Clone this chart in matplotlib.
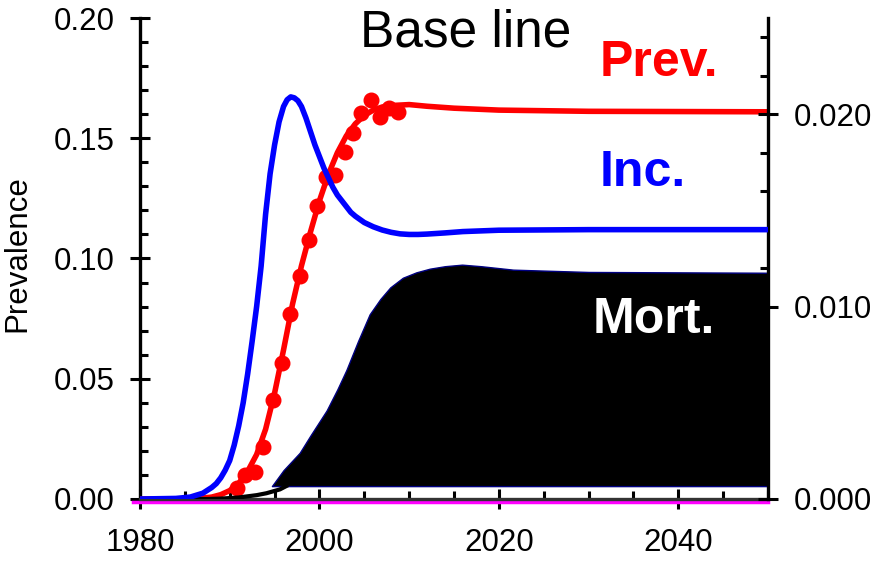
import matplotlib
matplotlib.use("Agg")
import matplotlib.pyplot as plt
import matplotlib.transforms as mtransforms
from matplotlib.ticker import MultipleLocator, FormatStrFormatter

plt.rcParams['font.family'] = ['Liberation Sans', 'DejaVu Sans']

# prevalence model curve (left axis)
prev_years = [1980, 1986, 1988, 1989, 1990, 1991, 1992, 1993, 1994, 1995, 1996,
              1997, 1998, 1999, 2000, 2001, 2002, 2003, 2004, 2005, 2006, 2007,
              2008, 2010, 2012, 2015, 2020, 2030, 2050]
prev_vals = [0, 0, 0.0008, 0.0018, 0.0035, 0.0065, 0.0115, 0.0185, 0.029, 0.044, 0.062,
             0.081, 0.097, 0.111, 0.124, 0.135, 0.144, 0.151, 0.156, 0.1595, 0.1617, 0.163,
             0.1636, 0.1640, 0.1633, 0.1625, 0.1617, 0.1612, 0.1610]

# prevalence observations (left axis)
obs_years = [1990.8, 1991.7, 1992.8, 1993.7, 1994.8, 1995.8, 1996.7, 1997.8, 1998.8,
             1999.7, 2000.7, 2001.7, 2002.9, 2003.7, 2004.6, 2005.8, 2006.7, 2007.7, 2008.8]
obs_vals = [0.0045, 0.0100, 0.0114, 0.0218, 0.0410, 0.0567, 0.0769, 0.0929, 0.1075,
            0.1218, 0.1338, 0.1347, 0.1444, 0.1521, 0.1606, 0.1659, 0.1590, 0.1625, 0.1610]

# incidence (right axis)
inc_years = [1980, 1984, 1985.6, 1987, 1988, 1988.5, 1989, 1989.5, 1990, 1990.5, 1991,
             1991.5, 1992, 1992.5, 1993, 1993.5, 1994, 1994.5, 1995, 1995.5, 1996, 1996.4,
             1996.8, 1997.2, 1997.6, 1998, 1998.5, 1999, 1999.5, 2000, 2000.5, 2001, 2001.5,
             2002, 2002.5, 2003, 2003.5, 2004, 2005, 2006, 2007, 2008, 2009, 2010,
             2011, 2012, 2014, 2016, 2020, 2030, 2050]
inc_vals = [0, 0.00003, 0.0001, 0.0003, 0.0006, 0.0008, 0.0011, 0.0015, 0.0020, 0.0028,
            0.0038, 0.0050, 0.0065, 0.0082, 0.0100, 0.0121, 0.0148, 0.0169, 0.0184, 0.0196,
            0.0204, 0.02075, 0.0209, 0.02085, 0.0207, 0.0204, 0.0198, 0.0191, 0.0184,
            0.0178, 0.0172, 0.0167, 0.0162, 0.0158, 0.0155, 0.0152, 0.0149, 0.0147,
            0.01437, 0.01415, 0.01398, 0.01386, 0.01378, 0.01375, 0.01375, 0.01377,
            0.01383, 0.0139, 0.01397, 0.0140, 0.0140]

# mortality (right axis), filled block
mort_years = [1994.7, 1996, 1997.8, 1999, 2000.8, 2002, 2003, 2004.3, 2005.6, 2006.8, 2007.9,
              2009.3, 2010.8, 2012.3, 2014, 2015.9, 2018, 2021.6, 2030, 2050]
mort_vals = [0.00067, 0.0015, 0.0024, 0.0033, 0.0046, 0.0057, 0.0067, 0.0082, 0.0096, 0.0104,
             0.0110, 0.0115, 0.01178, 0.01197, 0.0121, 0.01218, 0.0121, 0.01192, 0.0118, 0.01176]
mort_base = 0.00067

# early mortality curve below the block
mort0_years = [1980, 1987.5, 1989, 1991, 1993, 1994.1, 1995.6, 1996.3]
mort0_vals = [0, 0, 0.00002, 0.00008, 0.0002, 0.0003, 0.0005, 0.00067]

zero_years = [1979.2, 2050]
zero_vals = [0, 0]

fig = plt.figure(figsize=(8.85, 5.69), dpi=100)
ax = fig.add_axes([140/885, 1-499/569, 628/885, 481/569])
ax2 = ax.twinx()

ax.set_xlim(1980, 2050)
ax.set_ylim(0, 0.20)
ax2.set_ylim(0, 0.025)

# black mortality block and early curve
ax2.fill_between(mort_years, mort_base, mort_vals, facecolor='black',
                 edgecolor='#000080', linewidth=1, zorder=2)
ax2.plot(mort0_years, mort0_vals, color='black', lw=3, zorder=2)
ax2.plot(inc_years, inc_vals, color='#0000ff', lw=4, zorder=3)

ax.plot(prev_years, prev_vals, color='#ff0000', lw=4, zorder=3)
ax.plot(obs_years, obs_vals, 'o', color='#ff0000', ms=10.5, zorder=4)

off = mtransforms.offset_copy(ax.transData, fig=fig, y=-2.5, units='dots')
ax.plot(zero_years, zero_vals, color='#ff00ff', lw=2.5, transform=off, clip_on=False, zorder=3)

for a in (ax, ax2):
    a.spines['top'].set_visible(False)
    for s in a.spines.values():
        s.set_linewidth(2.4)
ax.spines['right'].set_visible(False)
ax2.spines['left'].set_visible(False)
ax2.spines['bottom'].set_visible(False)
ax.spines['bottom'].set_color('#333333')
ax.spines['bottom'].set_zorder(4)

ax.xaxis.set_major_locator(MultipleLocator(20))
ax.xaxis.set_minor_locator(MultipleLocator(5))
ax.yaxis.set_major_locator(MultipleLocator(0.05))
ax.yaxis.set_minor_locator(MultipleLocator(0.01))
ax.yaxis.set_major_formatter(FormatStrFormatter('%.2f'))
ax2.yaxis.set_major_locator(MultipleLocator(0.01))
ax2.yaxis.set_minor_locator(MultipleLocator(0.002))
ax2.yaxis.set_major_formatter(FormatStrFormatter('%.3f'))

for a in (ax, ax2):
    a.tick_params(which='major', direction='inout', length=14.4, width=2.2, labelsize=22.5)
    a.tick_params(which='minor', direction='in', length=5.8, width=2.2)
ax.tick_params(axis='y', which='both', right=False, pad=11)
ax.tick_params(axis='x', which='both', top=False, pad=14)
ax2.tick_params(axis='y', pad=11)
ax2.tick_params(axis='x', which='both', bottom=False, top=False, labelbottom=False)

ax.set_ylabel('Prevalence', fontsize=22.5)
ax.yaxis.set_label_coords(-0.172, 0.51)

ax.text(0.519, 0.94, 'Base line', transform=ax.transAxes, ha='center', va='baseline',
        fontsize=37, color='black')
ax.text(0.7325, 0.879, 'Prev.', transform=ax.transAxes, ha='left', va='baseline',
        fontsize=36, fontweight='bold', color='#ff0000')
ax.text(0.7325, 0.651, 'Inc.', transform=ax.transAxes, ha='left', va='baseline',
        fontsize=36, fontweight='bold', color='#0000ff', zorder=5)
ax2.text(0.721, 0.345, 'Mort.', transform=ax.transAxes, ha='left', va='baseline',
         fontsize=36, fontweight='bold', color='white', zorder=5)

fig.savefig('out.png', dpi=100)
